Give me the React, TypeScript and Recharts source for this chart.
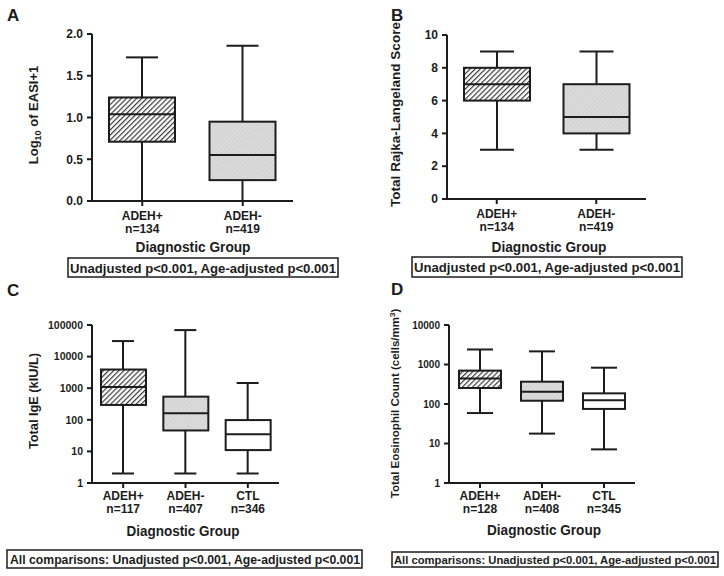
import React from 'react';
import { ComposedChart, Bar, Scatter, XAxis, YAxis } from 'recharts';

const FONT = '"Liberation Sans", Arial, Helvetica, sans-serif';
const INK = '#1c1c1c';

// Panel A: Log10 of EASI+1
const catsA = ['ADEH+', 'ADEH-'];
const nA = ['n=134', 'n=419'];
const minA = [0, 0];
const q1A = [0.71, 0.25];
const medA = [1.04, 0.55];
const q3A = [1.24, 0.95];
const maxA = [1.72, 1.86];
const ticksA = [0, 0.5, 1, 1.5, 2];

// Panel B: Total Rajka-Langeland Score
const catsB = ['ADEH+', 'ADEH-'];
const nB = ['n=134', 'n=419'];
const minB = [3, 3];
const q1B = [6, 4];
const medB = [7, 5];
const q3B = [8, 7];
const maxB = [9, 9];
const ticksB = [0, 2, 4, 6, 8, 10];

// Panel C: Total IgE (kIU/L)
const catsC = ['ADEH+', 'ADEH-', 'CTL'];
const nC = ['n=117', 'n=407', 'n=346'];
const minC = [2, 2, 2];
const q1C = [295, 46, 11];
const medC = [1090, 160, 35];
const q3C = [3900, 540, 98];
const maxC = [31000, 69000, 1460];
const ticksC = [1, 10, 100, 1000, 10000, 100000];

// Panel D: Total Eosinophil Count
const catsD = ['ADEH+', 'ADEH-', 'CTL'];
const nD = ['n=128', 'n=408', 'n=345'];
const minD = [59, 17.8, 7.1];
const q1D = [254, 121, 75];
const medD = [440, 205, 124];
const q3D = [700, 367, 186];
const maxD = [2400, 2150, 830];
const ticksD = [1, 10, 100, 1000, 10000];

const fills = ['hatch', 'stipple', 'white'];

function makeRows(cats: string[], ns: string[], mins: number[], q1s: number[], meds: number[], q3s: number[], maxs: number[]) {
  return cats.map((c, i) => ({
    cat: c,
    n: ns[i],
    whisker: [mins[i], maxs[i]],
    box: [q1s[i], q3s[i]],
    median: meds[i],
    fill: fills[i],
  }));
}

const rowsA = makeRows(catsA, nA, minA, q1A, medA, q3A, maxA);
const rowsB = makeRows(catsB, nB, minB, q1B, medB, q3B, maxB);
const rowsC = makeRows(catsC, nC, minC, q1C, medC, q3C, maxC);
const rowsD = makeRows(catsD, nD, minD, q1D, medD, q3D, maxD);

const WhiskerShape = (props: any) => {
  const { x, y, width, height } = props;
  const top = Math.min(y, y + height);
  const bot = Math.max(y, y + height);
  const cx = x + width / 2;
  return (
    <g>
      <line x1={cx} x2={cx} y1={top} y2={bot} stroke={INK} strokeWidth={2} />
      <line x1={x} x2={x + width} y1={top} y2={top} stroke={INK} strokeWidth={2} />
      <line x1={x} x2={x + width} y1={bot} y2={bot} stroke={INK} strokeWidth={2} />
    </g>
  );
};

const BoxShape = (props: any) => {
  const { x, y, width, height, payload } = props;
  const top = Math.min(y, y + height);
  const h = Math.abs(height);
  const f = payload && payload.fill;
  const fill = f === 'white' ? '#ffffff' : `url(#${f})`;
  return <rect x={x} y={top} width={width} height={h} fill={fill} stroke={INK} strokeWidth={2} />;
};

type PanelProps = {
  rows: any[];
  left: number;
  top: number;
  width: number;
  height: number;
  margin: { top: number; right: number; left: number; bottom: number };
  yWidth: number;
  yDomain: [number, number];
  yTicks: number[];
  log: boolean;
  yFmt: (v: number) => string;
  yFont: number;
  boxW: number;
  capW: number;
  dy1: number;
  dy2: number;
  xFont: number;
};

function Panel(p: PanelProps) {
  const XTick = (tp: any) => {
    const { x, y, payload, index } = tp;
    const row = p.rows[index] || p.rows.find((r) => r.cat === payload.value);
    return (
      <g>
        <text x={x} y={y + p.dy1} textAnchor="middle" fontFamily={FONT} fontWeight="bold" fontSize={p.xFont} fill={INK}>
          {payload.value}
        </text>
        <text x={x} y={y + p.dy2} textAnchor="middle" fontFamily={FONT} fontWeight="bold" fontSize={p.xFont} fill={INK}>
          {row ? row.n : ''}
        </text>
      </g>
    );
  };
  const MedianShape = (sp: any) => {
    const { cx, cy } = sp;
    return <line x1={cx - p.boxW / 2} x2={cx + p.boxW / 2} y1={cy} y2={cy} stroke={INK} strokeWidth={2} />;
  };
  return (
    <div style={{ position: 'absolute', left: p.left, top: p.top, width: p.width, height: p.height }}>
      <ComposedChart width={p.width} height={p.height} data={p.rows} margin={p.margin}>
        <XAxis
          xAxisId="main"
          dataKey="cat"
          type="category"
          height={34}
          tickSize={5}
          tickMargin={0}
          axisLine={{ stroke: INK, strokeWidth: 2 }}
          tickLine={{ stroke: INK, strokeWidth: 2 }}
          tick={XTick}
          interval={0}
        />
        <XAxis xAxisId="w" dataKey="cat" type="category" hide />
        <YAxis
          width={p.yWidth}
          scale={p.log ? 'log' : 'linear'}
          domain={p.yDomain}
          ticks={p.yTicks}
          allowDataOverflow
          interval={0}
          tickSize={5}
          tickMargin={4}
          tickFormatter={p.yFmt}
          axisLine={{ stroke: INK, strokeWidth: 2 }}
          tickLine={{ stroke: INK, strokeWidth: 2 }}
          tick={{ fill: INK, fontFamily: FONT, fontWeight: 'bold', fontSize: p.yFont }}
        />
        <Bar xAxisId="w" dataKey="whisker" barSize={p.capW} shape={WhiskerShape} isAnimationActive={false} />
        <Bar xAxisId="main" dataKey="box" barSize={p.boxW} shape={BoxShape} isAnimationActive={false} />
        <Scatter xAxisId="main" dataKey="median" shape={MedianShape} isAnimationActive={false} />
      </ComposedChart>
    </div>
  );
}

const T = (props: any) => (
  <text fontFamily={FONT} fontWeight="bold" fill={INK} lengthAdjust="spacingAndGlyphs" {...props} />
);

export default function App() {
  return (
    <div style={{ position: 'absolute', left: 0, top: 0, width: 724, height: 576, background: '#ffffff', overflow: 'hidden' }}>
      <svg width={0} height={0} style={{ position: 'absolute' }}>
        <defs>
          <pattern id="hatch" patternUnits="userSpaceOnUse" width={3.6} height={3.6} patternTransform="rotate(45)">
            <rect x={0} y={0} width={3.6} height={3.6} fill="#ffffff" />
            <line x1={0.6} y1={0} x2={0.6} y2={3.6} stroke="#2a2a2a" strokeWidth={1.1} />
          </pattern>
          <pattern id="stipple" patternUnits="userSpaceOnUse" width={3} height={3} patternTransform="rotate(45)">
            <rect x={0} y={0} width={3} height={3} fill="#dcdcdc" />
            <line x1={0.5} y1={0} x2={0.5} y2={3} stroke="#cbcbcb" strokeWidth={0.8} />
          </pattern>
        </defs>
      </svg>

      <Panel
        rows={rowsA} left={0} top={0} width={360} height={240}
        margin={{ top: 34, right: 67, left: 0, bottom: 5 }} yWidth={92}
        yDomain={[0, 2]} yTicks={ticksA} log={false} yFmt={(v) => Number(v).toFixed(1)} yFont={12}
        boxW={66} capW={32} dy1={14} dy2={27} xFont={12}
      />
      <Panel
        rows={rowsB} left={360} top={0} width={364} height={240}
        margin={{ top: 35, right: 78, left: 0, bottom: 7 }} yWidth={87}
        yDomain={[0, 10]} yTicks={ticksB} log={false} yFmt={(v) => String(v)} yFont={12}
        boxW={66} capW={34} dy1={14} dy2={27} xFont={12}
      />
      <Panel
        rows={rowsC} left={0} top={290} width={360} height={240}
        margin={{ top: 35, right: 81, left: 0, bottom: 13 }} yWidth={92}
        yDomain={[1, 100000]} yTicks={ticksC} log={true} yFmt={(v) => String(v)} yFont={10.5}
        boxW={45} capW={22} dy1={12} dy2={25} xFont={12}
      />
      <Panel
        rows={rowsD} left={360} top={290} width={364} height={240}
        margin={{ top: 35, right: 89, left: 0, bottom: 13 }} yWidth={89}
        yDomain={[1, 10000]} yTicks={ticksD} log={true} yFmt={(v) => String(v)} yFont={10}
        boxW={42} capW={26} dy1={12} dy2={25} xFont={12}
      />

      <svg width={724} height={576} style={{ position: 'absolute', left: 0, top: 0, pointerEvents: 'none' }}>
        {/* panel letters */}
        <T x={7} y={21} fontSize={17}>A</T>
        <T x={391} y={21} fontSize={17}>B</T>
        <T x={7} y={296} fontSize={17}>C</T>
        <T x={391} y={295} fontSize={17}>D</T>

        {/* y-axis titles */}
        <T x={38} y={115} fontSize={13} textAnchor="middle" transform="rotate(-90 38 115)">
          Log<tspan fontSize={9} dy={3}>10</tspan><tspan dy={-3}> of EASI+1</tspan>
        </T>
        <T x={400} y={114.5} fontSize={13} textAnchor="middle" transform="rotate(-90 400 114.5)" textLength={185}>
          Total Rajka-Langeland Score
        </T>
        <T x={38} y={401} fontSize={13} textAnchor="middle" transform="rotate(-90 38 401)" textLength={96}>
          Total IgE (kIU/L)
        </T>
        <T x={399} y={403.5} fontSize={11.5} textAnchor="middle" transform="rotate(-90 399 403.5)">
          Total Eosinophil Count (cells/mm<tspan fontSize={8} dy={-4}>3</tspan><tspan dy={4}>)</tspan>
        </T>

        {/* x-axis titles */}
        <T x={193} y={252} fontSize={14} textAnchor="middle" textLength={115}>Diagnostic Group</T>
        <T x={549} y={252} fontSize={14} textAnchor="middle" textLength={115}>Diagnostic Group</T>
        <T x={183} y={536} fontSize={14} textAnchor="middle" textLength={113}>Diagnostic Group</T>
        <T x={544} y={535} fontSize={14} textAnchor="middle" textLength={114}>Diagnostic Group</T>

        {/* p-value boxes */}
        <rect x={68} y={258} width={270} height={19} fill="none" stroke={INK} strokeWidth={1.5} />
        <T x={70} y={272.5} fontSize={12.5} textLength={266}>Unadjusted p&lt;0.001, Age-adjusted p&lt;0.001</T>
        <rect x={412} y={257} width={270} height={20} fill="none" stroke={INK} strokeWidth={1.5} />
        <T x={414} y={272} fontSize={12.5} textLength={266}>Unadjusted p&lt;0.001, Age-adjusted p&lt;0.001</T>
        <rect x={7} y={550} width={355} height={18} fill="none" stroke={INK} strokeWidth={1.5} />
        <T x={10} y={564} fontSize={12} textLength={350}>All comparisons: Unadjusted p&lt;0.001, Age-adjusted p&lt;0.001</T>
        <rect x={392} y={552} width={326} height={15} fill="none" stroke={INK} strokeWidth={1.5} />
        <T x={394} y={564} fontSize={11.5} textLength={322}>All comparisons: Unadjusted p&lt;0.001, Age-adjusted p&lt;0.001</T>
      </svg>
    </div>
  );
}
